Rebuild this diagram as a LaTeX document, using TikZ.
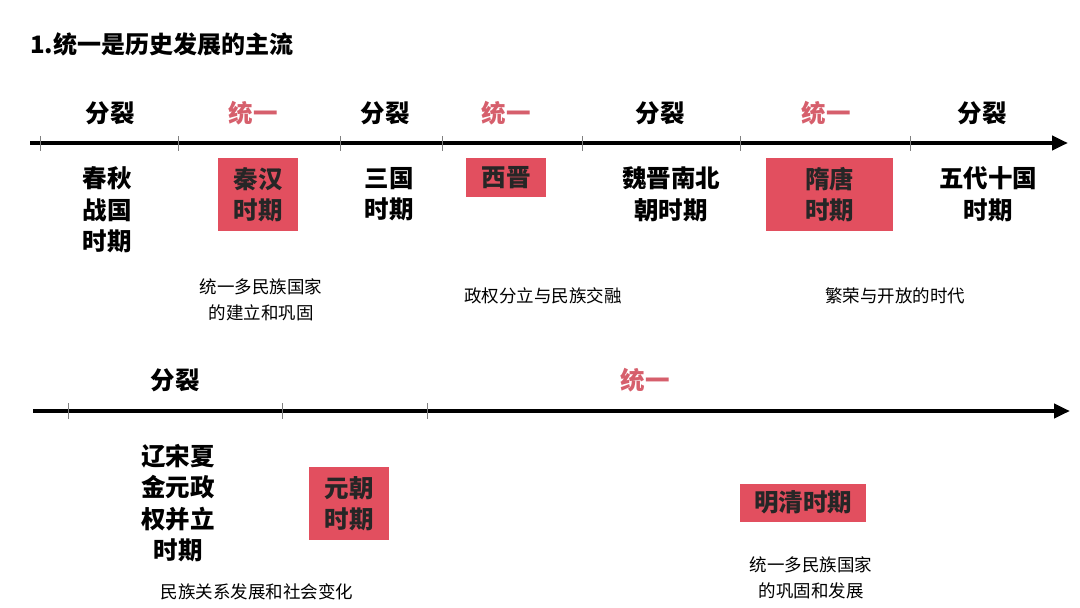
\documentclass[tikz,border=0pt]{standalone}
\usepackage{fontspec}
\setmainfont{Noto Sans CJK SC}
\usetikzlibrary{arrows.meta}
\definecolor{rd}{HTML}{E24F5F}
\definecolor{pk}{HTML}{D65F6C}
\tikzset{
 axis/.style={line width=4pt,-{Triangle[length=16pt,width=14pt]}},
 tick/.style={line width=0.8pt,gray},
 big/.style={font=\fontsize{24.5}{31.5}\selectfont\bfseries,align=center,inner sep=0pt},
 top/.style={big},
 uni/.style={big,text=pk},
 box/.style={fill=rd,big,text=black!85},
 small/.style={font=\fontsize{17.5}{26}\selectfont,align=center,inner sep=0pt}
}
\begin{document}
\begin{tikzpicture}[x=1pt,y=-1pt]
\useasboundingbox (0,0) rectangle (1080,608);
\node[anchor=west,font=\fontsize{24}{28}\selectfont\bfseries,inner sep=0pt] (title) at (30,44) {1.统一是历史发展的主流};
% line 1
\coordinate (a1) at (30,143); \coordinate (b1) at (1068,143);
\draw[axis] (a1) -- (b1);
\foreach \x/\n in {40/t1,178/t2,340/t3,442/t4,582/t5,740/t6,910/t7}{\coordinate (\n) at (\x,136); \draw[tick] (\n) -- ++(0,15);}
\node[top] (s1) at (110,113) {分裂};
\node[uni] (u1) at (253,113) {统一};
\node[top] (s2) at (385,113) {分裂};
\node[uni] (u2) at (506,113) {统一};
\node[top] (s3) at (660,113) {分裂};
\node[uni] (u3) at (826,113) {统一};
\node[top] (s4) at (982,113) {分裂};
\node[big] (p1) at (107,210) {春秋\\战国\\时期};
\node[box,minimum width=80pt,minimum height=73pt] (p2) at (258,194.5) {秦汉\\时期};
\node[big] (p3) at (389,194) {三国\\时期};
\node[box,minimum width=80pt,minimum height=39pt] (p4) at (506,177.5) {西晋};
\node[big] (p5) at (671,194) {魏晋南北\\朝时期};
\node[box,minimum width=127pt,minimum height=73pt] (p6) at (829.5,194.5) {隋唐\\时期};
\node[big] (p7) at (988,194) {五代十国\\时期};
\node[small] (d1) at (261,300) {统一多民族国家\\的建立和巩固};
\node[small] (d2) at (543,296) {政权分立与民族交融};
\node[small] (d3) at (895,296) {繁荣与开放的时代};
% line 2
\coordinate (a2) at (33,411); \coordinate (b2) at (1070,411);
\draw[axis] (a2) -- (b2);
\foreach \x/\n in {68/v1,282/v2,427/v3}{\coordinate (\n) at (\x,403); \draw[tick] (\n) -- ++(0,16);}
\node[top] (s5) at (175,380) {分裂};
\node[uni] (u4) at (645,380) {统一};
\node[big] (q1) at (178,503) {辽宋夏\\金元政\\权并立\\时期};
\node[box,minimum width=80pt,minimum height=73pt] (q2) at (349,503.5) {元朝\\时期};
\node[box,minimum width=126pt,minimum height=38pt] (q3) at (803,502.5) {明清时期};
\node[small] (d4) at (257,592) {民族关系发展和社会变化};
\node[small] (d5) at (811,578) {统一多民族国家\\的巩固和发展};
\end{tikzpicture}
\end{document}
